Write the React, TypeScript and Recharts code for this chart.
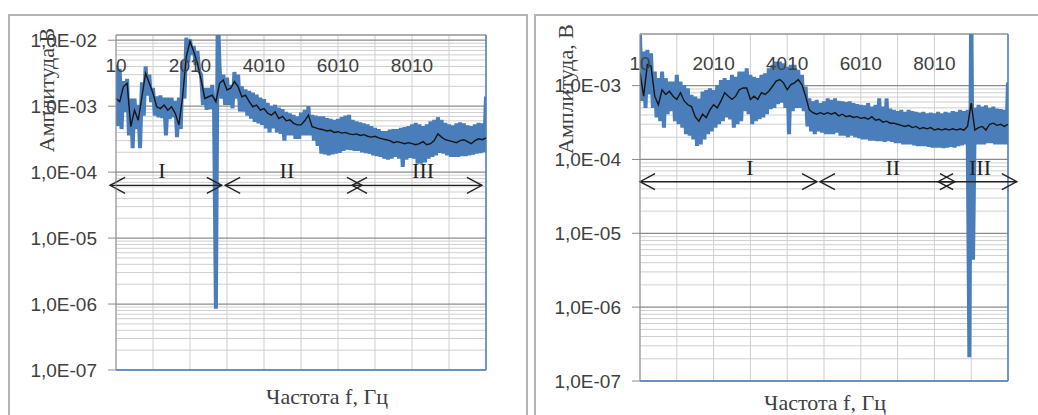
import React from "react";
import { LineChart, Line, XAxis, YAxis, CartesianGrid, ReferenceLine } from "recharts";

// amplitudes in mV; raw signal sampled every 50 Hz, smoothed curve every 100 Hz (from 10 Hz)
const LEFT_RAW_MV = [
  4.2, 0.5, 3.7, 0.45, 2.4, 0.82, 2.6, 0.36, 1.3, 0.23,
  1.3, 0.45, 1.05, 0.23, 2.3, 0.72, 4.0, 1.45, 3.0, 1.15,
  1.9, 0.72, 1.4, 0.68, 1.45, 0.66, 1.35, 0.36, 1.35, 0.64,
  1.35, 0.68, 1.2, 0.34, 1.35, 0.45, 4.8, 1.3, 10.9, 4.6,
  10.3, 6.0, 8.2, 4.2, 6.8, 3.4, 3.0, 1.05, 1.9, 0.88,
  1.9, 0.9, 2.1, 0.88, 0.00085, 30, 3.8, 1.3, 3.0, 1.05,
  2.7, 1.05, 2.1, 0.93, 3.3, 1.3, 3.0, 0.83, 2.0, 0.83,
  1.8, 0.72, 1.7, 0.65, 1.6, 0.58, 1.5, 0.55, 1.35, 0.52,
  1.28, 0.46, 1.12, 0.4, 1.0, 0.46, 1.05, 0.4, 0.95, 0.38,
  0.9, 0.3, 0.82, 0.36, 0.78, 0.36, 0.74, 0.32, 0.7, 0.32,
  0.8, 0.36, 0.88, 0.36, 1.0, 0.36, 0.74, 0.3, 0.72, 0.25,
  0.7, 0.19, 0.7, 0.185, 0.66, 0.18, 0.64, 0.185, 0.62, 0.19,
  0.64, 0.195, 0.68, 0.21, 0.72, 0.22, 0.74, 0.215, 0.62, 0.21,
  0.59, 0.21, 0.57, 0.2, 0.55, 0.195, 0.53, 0.19, 0.5, 0.18,
  0.47, 0.175, 0.45, 0.17, 0.42, 0.16, 0.42, 0.155, 0.44, 0.16,
  0.45, 0.17, 0.45, 0.16, 0.47, 0.12, 0.48, 0.155, 0.5, 0.165,
  0.53, 0.16, 0.56, 0.135, 0.53, 0.135, 0.5, 0.14, 0.53, 0.16,
  0.59, 0.17, 0.62, 0.18, 0.68, 0.195, 0.62, 0.19, 0.56, 0.18,
  0.53, 0.17, 0.51, 0.17, 0.55, 0.17, 0.57, 0.175, 0.55, 0.175,
  0.51, 0.18, 0.5, 0.185, 0.53, 0.19, 0.56, 0.195, 0.55, 0.2,
  1.4,
];

const LEFT_SMOOTH_MV = [
  1.31, 1.17, 1.98, 2.22, 0.49, 0.87, 0.61, 1.39, 3.16, 2.22,
  1.57, 0.98, 0.92, 1.04, 0.87, 0.98, 0.78, 0.52, 1.39, 5.66,
  9.6, 6.74, 4.49, 2.5, 1.31, 1.39, 1.47, 1.17, 2.22, 2.5,
  1.76, 1.87, 2.36, 1.98, 1.39, 1.47, 1.17, 0.98, 1.04, 0.87,
  0.92, 0.78, 0.73, 0.82, 0.65, 0.7, 0.6, 0.62, 0.55, 0.52,
  0.52, 0.6, 0.73, 0.49, 0.47, 0.45, 0.44, 0.42, 0.43, 0.4,
  0.41, 0.39, 0.4, 0.38, 0.37, 0.38, 0.36, 0.37, 0.35, 0.34,
  0.35, 0.33, 0.32, 0.31, 0.3, 0.28, 0.29, 0.28, 0.27, 0.28,
  0.27, 0.26, 0.27, 0.29, 0.26, 0.27, 0.3, 0.38, 0.34, 0.31,
  0.3, 0.29, 0.28, 0.3, 0.31, 0.29, 0.27, 0.3, 0.32, 0.31,
  0.33,
];

const RIGHT_RAW_MV = [
  4.86, 0.62, 2.89, 0.5, 3.05, 0.76, 2.74, 0.5, 1.55, 0.37,
  1.26, 0.33, 1.55, 0.27, 1.26, 0.41, 1.13, 0.45, 1.13, 0.33,
  1.4, 0.3, 1.13, 0.27, 1.02, 0.22, 0.92, 0.21, 0.75, 0.187,
  0.71, 0.152, 0.67, 0.16, 0.83, 0.187, 0.87, 0.22, 0.92, 0.24,
  0.87, 0.27, 1.02, 0.3, 1.19, 0.33, 1.26, 0.37, 1.19, 0.35,
  1.4, 0.27, 1.32, 0.3, 1.55, 0.33, 1.55, 0.45, 1.72, 0.41,
  1.4, 0.3, 1.32, 0.33, 1.26, 0.35, 1.4, 0.37, 1.47, 0.41,
  1.72, 0.48, 1.91, 0.5, 2.11, 0.56, 2.11, 0.59, 2.01, 0.5,
  1.81, 0.22, 1.91, 0.45, 1.91, 0.5, 1.63, 0.5, 1.4, 0.45,
  0.97, 0.28, 0.67, 0.24, 0.61, 0.22, 0.64, 0.24, 0.58, 0.23,
  0.61, 0.22, 0.67, 0.22, 0.64, 0.22, 0.67, 0.23, 0.62, 0.21,
  0.61, 0.21, 0.6, 0.2, 0.61, 0.21, 0.58, 0.2, 0.56, 0.195,
  0.55, 0.187, 0.54, 0.187, 0.58, 0.18, 0.52, 0.18, 0.55, 0.177,
  0.67, 0.177, 0.52, 0.173, 0.67, 0.177, 0.49, 0.173, 0.47, 0.166,
  0.45, 0.166, 0.47, 0.16, 0.44, 0.16, 0.47, 0.16, 0.45, 0.155,
  0.44, 0.152, 0.43, 0.152, 0.44, 0.152, 0.42, 0.148, 0.43, 0.145,
  0.42, 0.145, 0.44, 0.145, 0.42, 0.142, 0.44, 0.145, 0.43, 0.148,
  0.45, 0.145, 0.44, 0.152, 0.47, 0.155, 0.45, 0.16, 0.47, 0.00021,
  20, 0.0044, 0.5, 0.16, 0.55, 0.16, 0.52, 0.16, 0.54, 0.166,
  0.5, 0.166, 0.52, 0.16, 0.49, 0.16, 0.48, 0.16, 0.47, 0.16,
  1.1,
];

const RIGHT_SMOOTH_MV = [
  1.49, 0.72, 1.93, 1.83, 0.72, 0.55, 0.88, 0.76, 0.84, 0.72,
  0.65, 0.8, 0.62, 0.55, 0.52, 0.38, 0.33, 0.41, 0.37, 0.47,
  0.55, 0.5, 0.62, 0.8, 0.72, 0.65, 0.72, 0.88, 0.93, 0.93,
  0.65, 0.72, 0.65, 0.8, 0.76, 0.84, 0.98, 1.15, 1.21, 1.09,
  0.88, 1.03, 1.09, 1.21, 1.03, 0.72, 0.47, 0.43, 0.41, 0.43,
  0.41, 0.43, 0.41, 0.43, 0.39, 0.41, 0.38, 0.39, 0.37, 0.38,
  0.36, 0.37, 0.35, 0.38, 0.34, 0.35, 0.32, 0.33, 0.31, 0.31,
  0.3, 0.29, 0.28, 0.29, 0.27, 0.28, 0.26, 0.27, 0.26, 0.27,
  0.25, 0.26, 0.25, 0.26, 0.25, 0.26, 0.25, 0.26, 0.25, 0.28,
  0.58, 0.25, 0.27, 0.28, 0.25, 0.3, 0.31, 0.29, 0.3, 0.28,
  0.3,
];

const X_GRID = [10, 1010, 2010, 3010, 4010, 5010, 6010, 7010, 8010, 9010, 10010];
const X_LABELS = [10, 2010, 4010, 6010, 8010];
const LEFT_DECADES = [1e-7, 1e-6, 1e-5, 1e-4, 1e-3, 1e-2];
const RIGHT_DECADES = [1e-7, 1e-6, 1e-5, 1e-4, 1e-3];

// zones I / II / III: frequency span of each arrow and where its numeral sits
const LEFT_ZONES = [
  { name: "I", from: -150, to: 2870, at: 1250 },
  { name: "II", from: 2960, to: 6660, at: 4630 },
  { name: "III", from: 6390, to: 9900, at: 8310 },
];
const RIGHT_ZONES = [
  { name: "I", from: 10, to: 4820, at: 3000 },
  { name: "II", from: 4900, to: 8570, at: 6880 },
  { name: "III", from: 8110, to: 10250, at: 9250 },
];

const toRows = (mv: number[], step: number) =>
  mv.map((m, i) => ({ f: 10 + i * step, v: m / 1000 }));

const minorValues = (decades: number[]) => {
  const out: number[] = [];
  decades.slice(0, -1).forEach((d) => {
    for (let k = 2; k <= 9; k++) out.push(k * d);
  });
  return out;
};

const fmtExp = (v: number) => {
  const e = Math.round(Math.log10(v));
  return `1,0E-${String(-e).padStart(2, "0")}`;
};

const BLUE = "#4a7ebb";
const SANS = "Liberation Sans, Arial, sans-serif";
const SERIF = "Liberation Serif, Times New Roman, serif";

function zoneShape(zone: { name: string; from: number; to: number; at: number }) {
  return (p: any) => {
    const { x1, y1, x2 } = p;
    const lx = x1 + ((zone.at - zone.from) / (zone.to - zone.from)) * (x2 - x1);
    return (
      <g>
        <line x1={x1} y1={y1} x2={x2} y2={y1} stroke="#222" strokeWidth={1.4} />
        <polyline points={`${x1 + 15},${y1 - 8} ${x1},${y1} ${x1 + 15},${y1 + 8}`} fill="none" stroke="#222" strokeWidth={1.4} />
        <polyline points={`${x2 - 15},${y1 - 8} ${x2},${y1} ${x2 - 15},${y1 + 8}`} fill="none" stroke="#222" strokeWidth={1.4} />
        <text x={lx} y={y1 - 7} textAnchor="middle" fontFamily={SERIF} fontSize={22} fill="#222">
          {zone.name}
        </text>
      </g>
    );
  };
}

interface PanelProps {
  raw: number[];
  smooth: number[];
  decades: number[];
  yMax: number;
  width: number;
  axisWidth: number;
  margin: { top: number; right: number; bottom: number; left: number };
  labelDy: number;
  yTitle: string;
  yTitlePos: [number, number];
  xTitlePos: [number, number];
  zones: { name: string; from: number; to: number; at: number }[];
  zoneLevel: number;
}

function Panel(props: PanelProps) {
  const { raw, smooth, decades, yMax, width, axisWidth, margin, labelDy, yTitle, yTitlePos, xTitlePos, zones, zoneLevel } = props;
  const rawRows = toRows(raw, 50);
  const smoothRows = toRows(smooth, 100);

  const xTick = (t: any) =>
    X_LABELS.includes(t.payload.value) ? (
      <text x={t.x} y={t.y + labelDy} textAnchor="middle" fontFamily={SANS} fontSize={19} fill="#404040">
        {t.payload.value}
      </text>
    ) : (
      <g />
    );

  return (
    <LineChart width={width} height={415} margin={margin}>
      <CartesianGrid horizontalValues={minorValues(decades)} stroke="#cfcfcf" strokeWidth={1} />
      <CartesianGrid vertical={false} stroke="#8c8c8c" strokeWidth={1.2} />
      <XAxis
        type="number"
        dataKey="f"
        domain={[10, 10010]}
        ticks={X_GRID}
        interval={0}
        orientation="top"
        height={30}
        allowDataOverflow
        axisLine={false}
        tickLine={false}
        tickSize={0}
        tickMargin={0}
        tick={xTick}
      />
      <YAxis
        type="number"
        scale="log"
        domain={[1e-7, yMax]}
        ticks={decades}
        interval={0}
        allowDataOverflow
        width={axisWidth}
        tickSize={8}
        tickMargin={11}
        axisLine={{ stroke: "#8c8c8c" }}
        tickLine={{ stroke: "#8c8c8c" }}
        tick={{ fill: "#404040", fontSize: 19, fontFamily: SANS }}
        tickFormatter={fmtExp}
        label={() => (
          <g>
            <text
              x={yTitlePos[0]}
              y={yTitlePos[1]}
              transform={`rotate(-90, ${yTitlePos[0]}, ${yTitlePos[1]})`}
              textAnchor="middle"
              dominantBaseline="central"
              fontFamily={SERIF}
              fontSize={22}
              fill="#404040"
            >
              {yTitle}
            </text>
            <text x={xTitlePos[0]} y={xTitlePos[1]} textAnchor="middle" fontFamily={SERIF} fontSize={22} fill="#404040">
              Частота f, Гц
            </text>
          </g>
        )}
      />
      <ReferenceLine y={yMax} stroke="#9a9a9a" strokeWidth={1.2} />
      <ReferenceLine y={1e-7} stroke={BLUE} strokeWidth={1.5} />
      <ReferenceLine x={10010} stroke={BLUE} strokeWidth={1.5} />
      <Line data={rawRows} dataKey="v" stroke={BLUE} strokeWidth={4} dot={false} isAnimationActive={false} />
      <Line data={smoothRows} dataKey="v" stroke="#151515" strokeWidth={1.4} dot={false} isAnimationActive={false} />
      {zones.map((z) => (
        <ReferenceLine
          key={z.name}
          segment={[
            { x: z.from, y: zoneLevel },
            { x: z.to, y: zoneLevel },
          ]}
          ifOverflow="visible"
          shape={zoneShape(z)}
        />
      ))}
    </LineChart>
  );
}

export default function App() {
  return (
    <div style={{ position: "absolute", left: 0, top: 0, width: 1038, height: 415, overflow: "hidden", background: "#fff" }}>
      <div style={{ position: "absolute", left: 8, top: 14, width: 520, height: 440, border: "2px solid #b4b4b4", boxSizing: "border-box" }} />
      <div style={{ position: "absolute", left: 534, top: 14, width: 540, height: 440, border: "2px solid #b4b4b4", boxSizing: "border-box" }} />
      <div style={{ position: "absolute", left: 0, top: 0 }}>
        <Panel
          raw={LEFT_RAW_MV}
          smooth={LEFT_SMOOTH_MV}
          decades={LEFT_DECADES}
          yMax={1.2e-2}
          width={528}
          axisWidth={116}
          margin={{ top: 5, right: 42, bottom: 45, left: 0 }}
          labelDy={37}
          yTitle="Амплитуда,В"
          yTitlePos={[46, 90]}
          xTitlePos={[327, 404]}
          zones={LEFT_ZONES}
          zoneLevel={6.3e-5}
        />
      </div>
      <div style={{ position: "absolute", left: 528, top: 0 }}>
        <Panel
          raw={RIGHT_RAW_MV}
          smooth={RIGHT_SMOOTH_MV}
          decades={RIGHT_DECADES}
          yMax={5e-3}
          width={510}
          axisWidth={112}
          margin={{ top: 4, right: 30, bottom: 34, left: 0 }}
          labelDy={36}
          yTitle="Амплитуда, В"
          yTitlePos={[37, 89]}
          xTitlePos={[297, 410]}
          zones={RIGHT_ZONES}
          zoneLevel={5.0e-5}
        />
      </div>
    </div>
  );
}
